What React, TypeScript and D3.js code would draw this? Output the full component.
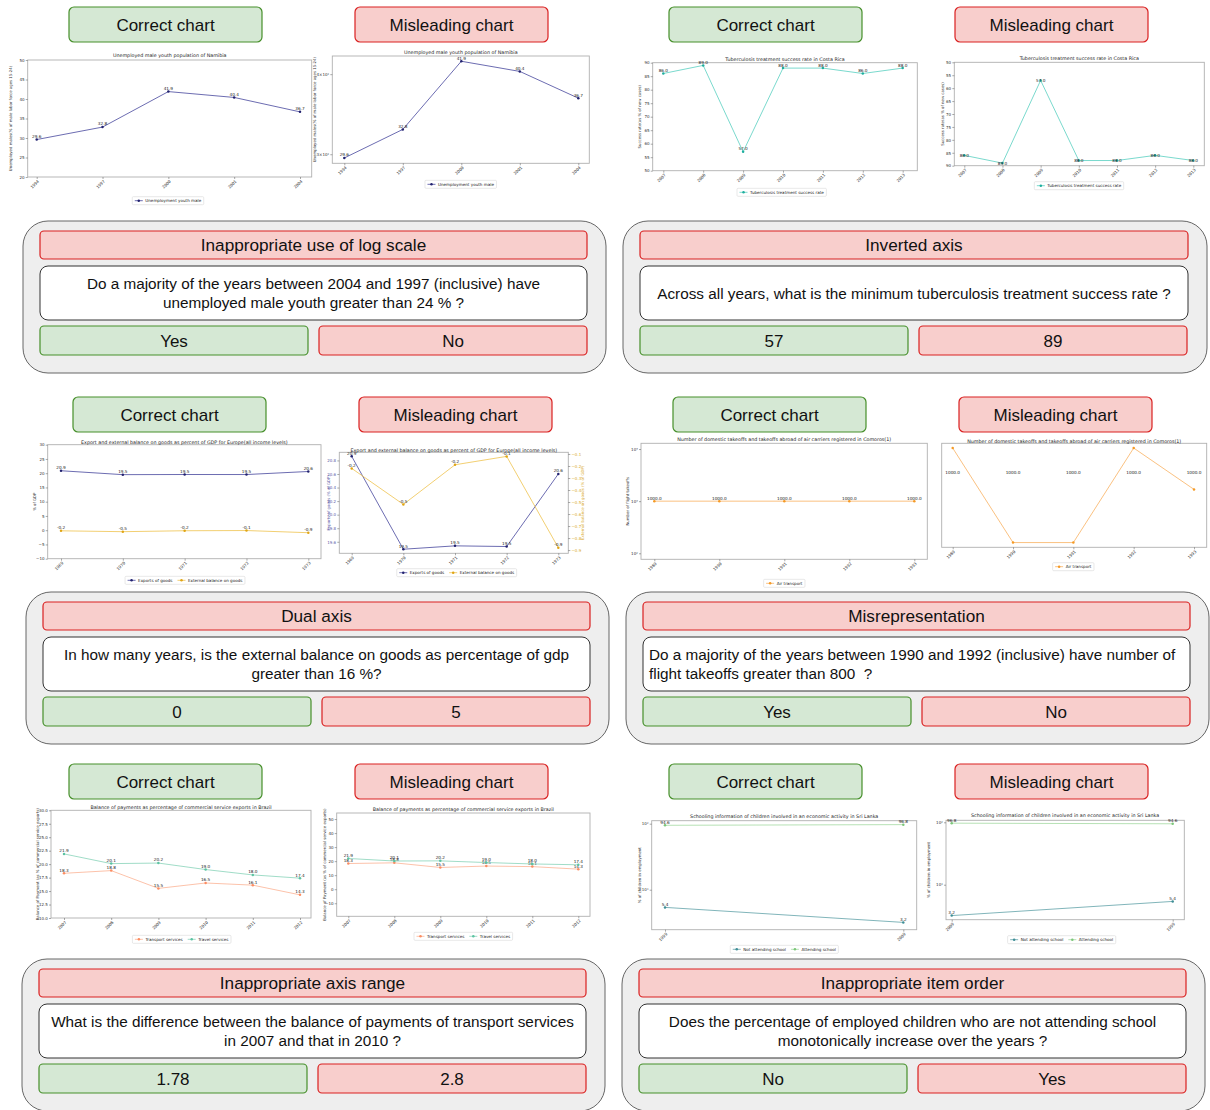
import { useEffect, useRef } from "react";
import * as d3 from "d3";

// ---------- data ----------
const namibiaYears = ["1994", "1997", "2000", "2001", "2004"];
const namibiaMale = [29.6, 32.8, 41.9, 40.4, 36.7];
const namibiaTicks = [20, 25, 30, 35, 40, 45, 50];
const namibiaLogTicks = [30, 40];
const namibiaLogLabels = ["3×10¹", "4×10¹"];

const tbYears = ["2007", "2008", "2009", "2010", "2011", "2012", "2013"];
const tbRate = [86, 89, 57, 88, 88, 86, 88];
const tbTicks = [50, 55, 60, 65, 70, 75, 80, 85, 90];

const europeYears = ["1969", "1970", "1971", "1972", "1973"];
const europeExports = [20.86, 19.49, 19.54, 19.53, 20.6];
const europeBalance = [-0.22, -0.52, -0.19, -0.12, -0.88];
const europeTicks = [-10, -5, 0, 5, 10, 15, 20, 25, 30];
const exportTicks = [19.6, 19.8, 20.0, 20.2, 20.4, 20.6, 20.8];
const balanceTicks = [-0.9, -0.8, -0.7, -0.6, -0.5, -0.4, -0.3, -0.2, -0.1];

const comorosYears = ["1989", "1990", "1991", "1992", "1993"];
const comorosTakeoffs = [1000, 1000, 1000, 1000, 1000];
// values as drawn by the misleading chart (labels still read 1000.0)
const comorosTakeoffsShown = [1000.4, 999.6, 999.6, 1000.4, 1000.05];
const comorosLogTicks = [100, 1000, 10000];
const comorosLogLabels = ["10²", "10³", "10⁴"];

const brazilYears = ["2007", "2008", "2009", "2010", "2011", "2012"];
const brazilTransport = [18.3, 18.8, 15.5, 16.5, 16.1, 14.3];
const brazilTravel = [21.9, 20.1, 20.2, 19.0, 18.0, 17.4];
const brazilTicks = [10, 12.5, 15, 17.5, 20, 22.5, 25, 27.5, 30];
const brazilWideTicks = [-10, 0, 10, 20, 30, 40, 50];

const lankaYears = ["1999", "2009"];
const lankaNotAttending = [5.4, 3.2];
const lankaAttending = [94.6, 96.8];
const lankaTicks = [10, 100];
const lankaTickLabels = ["10¹", "10²"];

const panelTitles = [
  "Inappropriate use of log scale",
  "Inverted axis",
  "Dual axis",
  "Misrepresentation",
  "Inappropriate axis range",
  "Inappropriate item order",
];
const panelQuestions = [
  ["Do a majority of the years between 2004 and 1997 (inclusive) have", "unemployed male youth greater than 24 % ?"],
  ["Across all years, what is the minimum tuberculosis treatment success rate ?"],
  ["In how many years, is the external balance on goods as percentage of gdp", "greater than 16 %?"],
  ["Do a majority of the years between 1990 and 1992 (inclusive) have number of", "flight takeoffs greater than 800  ?"],
  ["What is the difference between the balance of payments of transport services", "in 2007 and that in 2010 ?"],
  ["Does the percentage of employed children who are not attending school", "monotonically increase over the years ?"],
];
const correctAnswers = ["Yes", "57", "0", "Yes", "1.78", "No"];
const misleadingAnswers = ["No", "89", "5", "No", "2.8", "Yes"];

// ---------- layout ----------
const panelBoxes = [
  { gx: 23, gy: 221, w: 583, py: 7, cx: 69, mx: 355, left: false },
  { gx: 623, gy: 221, w: 584, py: 7, cx: 669, mx: 955, left: false },
  { gx: 26, gy: 592, w: 583, py: 397, cx: 73, mx: 359, left: false },
  { gx: 626, gy: 592, w: 583, py: 397, cx: 673, mx: 959, left: true },
  { gx: 22, gy: 959, w: 583, py: 764, cx: 69, mx: 355, left: false },
  { gx: 622, gy: 959, w: 583, py: 764, cx: 669, mx: 955, left: false },
];

const GREEN_FILL = "#d5e8d4";
const GREEN_STROKE = "#468f2a";
const RED_FILL = "#f8cecc";
const RED_STROKE = "#d92020";
const BOX_FONT = "'Liberation Sans', Arial, Helvetica, sans-serif";
const CHART_FONT = "'DejaVu Sans', sans-serif";

const fmt1 = (v: number) => v.toFixed(1);
const fmtInt = (v: number) => (v < 0 ? "\u2212" + Math.abs(v) : String(v));
const fmtMinus1 = (v: number) => (v < 0 ? "\u2212" + Math.abs(v).toFixed(1) : v.toFixed(1));

type AxisSpec = {
  log?: boolean;
  invert?: boolean;
  hidden?: boolean;
  domain: [number, number];
  ticks: number[];
  tickLabels: string[];
  label: string;
  labelX: number;
  color?: string;
};
type Series = {
  name: string;
  values: number[];
  labels?: string[];
  line: string;
  marker: string;
  right?: boolean;
};
type ChartSpec = {
  title: string;
  titleY: number;
  plot: [number, number, number, number];
  xRange: [number, number];
  cats: string[];
  y: AxisSpec;
  y2?: AxisSpec;
  series: Series[];
  labelMode: "above" | "center" | "fixed";
  labelLevel?: number;
  legend: [number, number];
};

const navy = { line: "#5252a3", marker: "#22226e" };
const teal = { line: "#62d2c4", marker: "#1fae9e" };
const gold = { line: "#f0c658", marker: "#e0a515" };
const orange = { line: "#f9b66a", marker: "#f59a25" };
const salmon = { line: "#fbb79b", marker: "#fc8d62" };
const mint = { line: "#8fd6bd", marker: "#5cc3a2" };
const cadet = { line: "#6aa8ae", marker: "#3f8e96" };
const leaf = { line: "#a9dca6", marker: "#7cc67a" };

const charts: ChartSpec[] = [
  {
    title: "Unemployed male youth population of Namibia",
    titleY: 55.7,
    plot: [27.7, 60, 311.7, 177],
    xRange: [36.7, 300],
    cats: namibiaYears,
    y: {
      domain: [20, 50],
      ticks: namibiaTicks,
      tickLabels: namibiaTicks.map(String),
      label: "Unemployed males(% of male labor force ages 15-24)",
      labelX: 11,
    },
    series: [{ name: "Unemployment youth male", values: namibiaMale, ...navy }],
    labelMode: "above",
    legend: [168, 200.7],
  },
  {
    title: "Unemployed male youth population of Namibia",
    titleY: 52.3,
    plot: [332.3, 56, 589.3, 163.3],
    xRange: [344.3, 578.3],
    cats: namibiaYears,
    y: {
      log: true,
      domain: [29.04, 42.7],
      ticks: namibiaLogTicks,
      tickLabels: namibiaLogLabels,
      label: "Unemployed males(% of male labor force ages 15-24)",
      labelX: 315,
    },
    series: [{ name: "Unemployment youth male", values: namibiaMale, ...navy }],
    labelMode: "above",
    legend: [460.7, 184.3],
  },
  {
    title: "Tuberculosis treatment success rate in Costa Rica",
    titleY: 59.3,
    plot: [652.7, 62.7, 917.3, 170.7],
    xRange: [663.3, 902.7],
    cats: tbYears,
    y: { domain: [50, 90], ticks: tbTicks, tickLabels: tbTicks.map(String), label: "Success rate(as % of new cases)", labelX: 640 },
    series: [{ name: "Tuberculosis treatment success rate", values: tbRate, ...teal }],
    labelMode: "above",
    legend: [781.7, 192.3],
  },
  {
    title: "Tuberculosis treatment success rate in Costa Rica",
    titleY: 58.3,
    plot: [954.3, 62.3, 1204.3, 165.7],
    xRange: [964.3, 1193.3],
    cats: tbYears,
    y: {
      invert: true,
      domain: [50, 90],
      ticks: tbTicks,
      tickLabels: tbTicks.map(String),
      label: "Success rate(as % of new cases)",
      labelX: 943,
    },
    series: [{ name: "Tuberculosis treatment success rate", values: tbRate, ...teal }],
    labelMode: "center",
    legend: [1079, 185.7],
  },
  {
    title: "Export and external balance on goods as percent of GDP for Europe(all income levels)",
    titleY: 442,
    plot: [47.7, 444.7, 321, 558.7],
    xRange: [61, 308.3],
    cats: europeYears,
    y: { domain: [-10, 30], ticks: europeTicks, tickLabels: europeTicks.map(fmtInt), label: "% of GDP", labelX: 35 },
    series: [
      { name: "Exports of goods", values: europeExports, ...navy },
      { name: "External balance on goods", values: europeBalance, ...gold },
    ],
    labelMode: "above",
    legend: [185, 580.3],
  },
  {
    title: "Export and external balance on goods as percent of GDP for Europe(all income levels)",
    titleY: 450,
    plot: [339.3, 452.3, 568.3, 553.3],
    xRange: [351.7, 558.3],
    cats: europeYears,
    y: {
      domain: [19.43, 20.92],
      ticks: exportTicks,
      tickLabels: exportTicks.map(fmt1),
      label: "Exports of goods (% of GDP)",
      labelX: 328.3,
      color: "#5b5ba6",
    },
    y2: {
      domain: [-0.927, -0.086],
      ticks: balanceTicks,
      tickLabels: balanceTicks.map(fmtMinus1),
      label: "External balance on goods (% of GDP)",
      labelX: 583,
      color: "#d9a92a",
    },
    series: [
      { name: "Exports of goods", values: europeExports, ...navy },
      { name: "External balance on goods", values: europeBalance, ...gold, right: true },
    ],
    labelMode: "above",
    legend: [456.7, 572.7],
  },
  {
    title: "Number of domestic takeoffs and takeoffs abroad of air carriers registered in Comoros(1)",
    titleY: 439.3,
    plot: [641, 443.3, 927.3, 559.3],
    xRange: [654.3, 914.3],
    cats: comorosYears,
    y: {
      log: true,
      domain: [76.7, 12882],
      ticks: comorosLogTicks,
      tickLabels: comorosLogLabels,
      label: "Number of flight takeoffs",
      labelX: 627.7,
    },
    series: [{ name: "Air transport", values: comorosTakeoffs, ...orange }],
    labelMode: "above",
    legend: [784.3, 583.3],
  },
  {
    title: "Number of domestic takeoffs and takeoffs abroad of air carriers registered in Comoros(1)",
    titleY: 441,
    plot: [941.7, 443.3, 1206.7, 547.3],
    xRange: [952.7, 1194],
    cats: comorosYears,
    y: { hidden: true, domain: [999.56, 1000.44], ticks: [], tickLabels: [], label: "", labelX: 0 },
    series: [
      {
        name: "Air transport",
        values: comorosTakeoffsShown,
        labels: comorosTakeoffs.map(fmt1),
        ...orange,
      },
    ],
    labelMode: "fixed",
    labelLevel: 1000.19,
    legend: [1073.3, 566.7],
  },
  {
    title: "Balance of payments as percentage of commercial service exports in Brazil",
    titleY: 807.3,
    plot: [51, 810.3, 311, 918],
    xRange: [64, 300],
    cats: brazilYears,
    y: {
      domain: [10, 30],
      ticks: brazilTicks,
      tickLabels: brazilTicks.map(fmt1),
      label: "Balance of Payment (as % of commercial service exports)",
      labelX: 37.7,
    },
    series: [
      { name: "Transport services", values: brazilTransport, ...salmon },
      { name: "Travel services", values: brazilTravel, ...mint },
    ],
    labelMode: "above",
    legend: [181.7, 939.3],
  },
  {
    title: "Balance of payments as percentage of commercial service exports in Brazil",
    titleY: 809.7,
    plot: [336.7, 813, 590, 916.3],
    xRange: [348.3, 578.3],
    cats: brazilYears,
    y: {
      domain: [-19.3, 54.3],
      ticks: brazilWideTicks,
      tickLabels: brazilWideTicks.map(fmtInt),
      label: "Balance of Payment (as % of commercial service exports)",
      labelX: 324.3,
    },
    series: [
      { name: "Transport services", values: brazilTransport, ...salmon },
      { name: "Travel services", values: brazilTravel, ...mint },
    ],
    labelMode: "above",
    legend: [463.3, 936.3],
  },
  {
    title: "Schooling information of children involved in an economic activity in Sri Lanka",
    titleY: 816.3,
    plot: [651.7, 820.7, 916.7, 929.7],
    xRange: [665, 903.3],
    cats: lankaYears,
    y: {
      log: true,
      domain: [2.48, 111],
      ticks: lankaTicks,
      tickLabels: lankaTickLabels,
      label: "% of children in employment",
      labelX: 640,
    },
    series: [
      { name: "Not attending school", values: lankaNotAttending, ...cadet },
      { name: "Attending school", values: lankaAttending, ...leaf },
    ],
    labelMode: "above",
    legend: [784.3, 949.3],
  },
  {
    title: "Schooling information of children involved in an economic activity in Sri Lanka",
    titleY: 815.3,
    plot: [946, 820.3, 1184.3, 919.7],
    xRange: [951.7, 1172.7],
    cats: lankaYears.slice().reverse(),
    y: {
      log: true,
      domain: [2.75, 107.6],
      ticks: lankaTicks,
      tickLabels: lankaTickLabels,
      label: "% of children in employment",
      labelX: 928.3,
    },
    series: [
      { name: "Not attending school", values: lankaNotAttending.slice().reverse(), ...cadet },
      { name: "Attending school", values: lankaAttending.slice().reverse(), ...leaf },
    ],
    labelMode: "above",
    legend: [1061.7, 939.7],
  },
];

type Sel = d3.Selection<SVGGElement, unknown, null, undefined>;

function drawChart(root: Sel, s: ChartSpec) {
  const [l, t, r, b] = s.plot;
  const g = root.append("g").attr("font-family", CHART_FONT);
  const x = d3.scalePoint<string>().domain(s.cats).range(s.xRange);
  const makeY = (a: AxisSpec) => {
    const sc: any = a.log ? d3.scaleLog() : d3.scaleLinear();
    return sc.domain(a.domain).range(a.invert ? [t, b] : [b, t]);
  };
  const y = makeY(s.y);
  const y2 = s.y2 ? makeY(s.y2) : y;

  // axes frame
  g.append("rect")
    .attr("x", l)
    .attr("y", t)
    .attr("width", r - l)
    .attr("height", b - t)
    .attr("fill", "#fff")
    .attr("stroke", "#b0b0b0")
    .attr("stroke-width", 0.9);

  g.append("text")
    .attr("x", (l + r) / 2)
    .attr("y", s.titleY)
    .attr("dy", "0.35em")
    .attr("text-anchor", "middle")
    .attr("font-size", 4.8)
    .attr("fill", "#222")
    .text(s.title);

  const drawY = (a: AxisSpec, sc: any, side: "left" | "right") => {
    if (a.hidden) return;
    const axis = (side === "left" ? d3.axisLeft(sc) : d3.axisRight(sc))
      .tickValues(a.ticks)
      .tickFormat((_d: any, i: number) => a.tickLabels[i])
      .tickSize(2)
      .tickPadding(1.2);
    const ag = g
      .append("g")
      .attr("transform", `translate(${side === "left" ? l : r},0)`)
      .call(axis as any)
      .attr("font-family", CHART_FONT);
    ag.select(".domain").remove();
    ag.selectAll("line").attr("stroke", "#555").attr("stroke-width", 0.5);
    ag.selectAll("text").attr("font-size", 4).attr("fill", a.color || "#333");
    g.append("text")
      .attr("transform", `translate(${a.labelX},${(t + b) / 2}) rotate(-90)`)
      .attr("text-anchor", "middle")
      .attr("dy", "0.35em")
      .attr("font-size", 3.9)
      .attr("fill", a.color || "#333")
      .text(a.label);
  };
  drawY(s.y, y, "left");
  if (s.y2) drawY(s.y2, y2, "right");

  // x axis with rotated labels
  const xg = g
    .append("g")
    .attr("transform", `translate(0,${b})`)
    .call(d3.axisBottom(x).tickSize(2).tickPadding(1))
    .attr("font-family", CHART_FONT);
  xg.select(".domain").remove();
  xg.selectAll("line").attr("stroke", "#555").attr("stroke-width", 0.5);
  xg.selectAll("text")
    .attr("y", 0)
    .attr("dy", "0.35em")
    .attr("text-anchor", "end")
    .attr("font-size", 4)
    .attr("fill", "#333")
    .attr("transform", "translate(1.2,3.6) rotate(-45)");

  // series
  s.series.forEach((se) => {
    const ys = se.right ? y2 : y;
    const line = d3
      .line<number>()
      .x((_v, i) => x(s.cats[i]) as number)
      .y((v) => ys(v));
    g.append("path")
      .datum(se.values)
      .attr("d", line)
      .attr("fill", "none")
      .attr("stroke", se.line)
      .attr("stroke-width", 0.85);
    g.append("g")
      .selectAll("circle")
      .data(se.values)
      .join("circle")
      .attr("cx", (_v, i) => x(s.cats[i]) as number)
      .attr("cy", (v) => ys(v))
      .attr("r", 1.25)
      .attr("fill", se.marker);
    const labels = se.labels || se.values.map(fmt1);
    g.append("g")
      .selectAll("text")
      .data(se.values)
      .join("text")
      .attr("x", (_v, i) => x(s.cats[i]) as number)
      .attr("y", (v) =>
        s.labelMode === "fixed" ? ys(s.labelLevel as number) : s.labelMode === "center" ? ys(v) : ys(v) - 1.6
      )
      .attr("dy", s.labelMode === "above" ? 0 : "0.35em")
      .attr("text-anchor", "middle")
      .attr("font-size", 4.2)
      .attr("fill", "#222")
      .text((_v, i) => labels[i]);
  });

  // legend
  const [lcx, lcy] = s.legend;
  const lg = g.append("g");
  const fs = 4.1;
  const pad = 2.5;
  const sample = 8;
  let cursor = pad;
  s.series.forEach((se, i) => {
    if (i > 0) cursor += 5;
    const item = lg.append("g").attr("transform", `translate(${cursor},0)`);
    item
      .append("line")
      .attr("x1", 0)
      .attr("x2", sample)
      .attr("y1", 0)
      .attr("y2", 0)
      .attr("stroke", se.line)
      .attr("stroke-width", 0.85);
    item.append("circle").attr("cx", sample / 2).attr("cy", 0).attr("r", 1.25).attr("fill", se.marker);
    const tx = item
      .append("text")
      .attr("x", sample + 2.5)
      .attr("y", 0)
      .attr("dy", "0.35em")
      .attr("font-size", fs)
      .attr("fill", "#222")
      .text(se.name);
    const node = tx.node() as SVGTextElement;
    const tw = node ? node.getComputedTextLength() : se.name.length * fs * 0.55;
    cursor += sample + 2.5 + tw;
  });
  const lw = cursor + pad;
  const lh = 8;
  lg.insert("rect", ":first-child")
    .attr("x", 0)
    .attr("y", -lh / 2)
    .attr("width", lw)
    .attr("height", lh)
    .attr("rx", 1)
    .attr("fill", "#fff")
    .attr("stroke", "#d0d0d0")
    .attr("stroke-width", 0.5);
  lg.attr("transform", `translate(${lcx - lw / 2},${lcy})`);
}

function Pill({ x, y, label, good }: { x: number; y: number; label: string; good: boolean }) {
  return (
    <g>
      <rect
        x={x}
        y={y}
        width={193}
        height={35}
        rx={5}
        fill={good ? GREEN_FILL : RED_FILL}
        stroke={good ? GREEN_STROKE : RED_STROKE}
        strokeWidth={1.2}
      />
      <text x={x + 96.5} y={y + 18} dy="0.35em" textAnchor="middle" fontSize={17} fill="#111">
        {label}
      </text>
    </g>
  );
}

export default function App() {
  const chartRef = useRef<SVGGElement>(null);

  useEffect(() => {
    if (!chartRef.current) return;
    const root = d3.select(chartRef.current) as unknown as Sel;
    root.selectAll("*").remove();
    charts.forEach((c) => drawChart(root, c));
  }, []);

  return (
    <div style={{ position: "absolute", left: 0, top: 0 }}>
      <svg width={1210} height={1110} style={{ display: "block", background: "#fff" }} fontFamily={BOX_FONT}>
        {panelBoxes.map((p, i) => {
          const ix = p.gx + 17;
          const iw = p.w - 36;
          const q = panelQuestions[i];
          return (
            <g key={i}>
              <Pill x={p.cx} y={p.py} label="Correct chart" good />
              <Pill x={p.mx} y={p.py} label="Misleading chart" good={false} />
              <rect x={p.gx} y={p.gy} width={p.w} height={152} rx={25} fill="#eeeeee" stroke="#666" strokeWidth={1} />
              <rect x={ix} y={p.gy + 10} width={iw} height={28} rx={4} fill={RED_FILL} stroke={RED_STROKE} strokeWidth={1.2} />
              <text x={ix + iw / 2} y={p.gy + 24} dy="0.35em" textAnchor="middle" fontSize={17.2} fill="#111">
                {panelTitles[i]}
              </text>
              <rect x={ix} y={p.gy + 45} width={iw} height={54} rx={8} fill="#fff" stroke="#333" strokeWidth={1} />
              {q.map((line, k) => (
                <text
                  key={k}
                  x={p.left ? ix + 6 : ix + iw / 2}
                  y={q.length === 1 ? p.gy + 73 : p.gy + 63 + k * 19}
                  dy="0.35em"
                  textAnchor={p.left ? "start" : "middle"}
                  fontSize={15.3}
                  fill="#111"
                  style={{ whiteSpace: "pre" }}
                >
                  {line}
                </text>
              ))}
              <rect x={ix} y={p.gy + 105} width={268} height={29} rx={4} fill={GREEN_FILL} stroke={GREEN_STROKE} strokeWidth={1.2} />
              <text x={ix + 134} y={p.gy + 120} dy="0.35em" textAnchor="middle" fontSize={17} fill="#111">
                {correctAnswers[i]}
              </text>
              <rect x={ix + 279} y={p.gy + 105} width={268} height={29} rx={4} fill={RED_FILL} stroke={RED_STROKE} strokeWidth={1.2} />
              <text x={ix + 279 + 134} y={p.gy + 120} dy="0.35em" textAnchor="middle" fontSize={17} fill="#111">
                {misleadingAnswers[i]}
              </text>
            </g>
          );
        })}
        <g ref={chartRef} />
      </svg>
    </div>
  );
}
